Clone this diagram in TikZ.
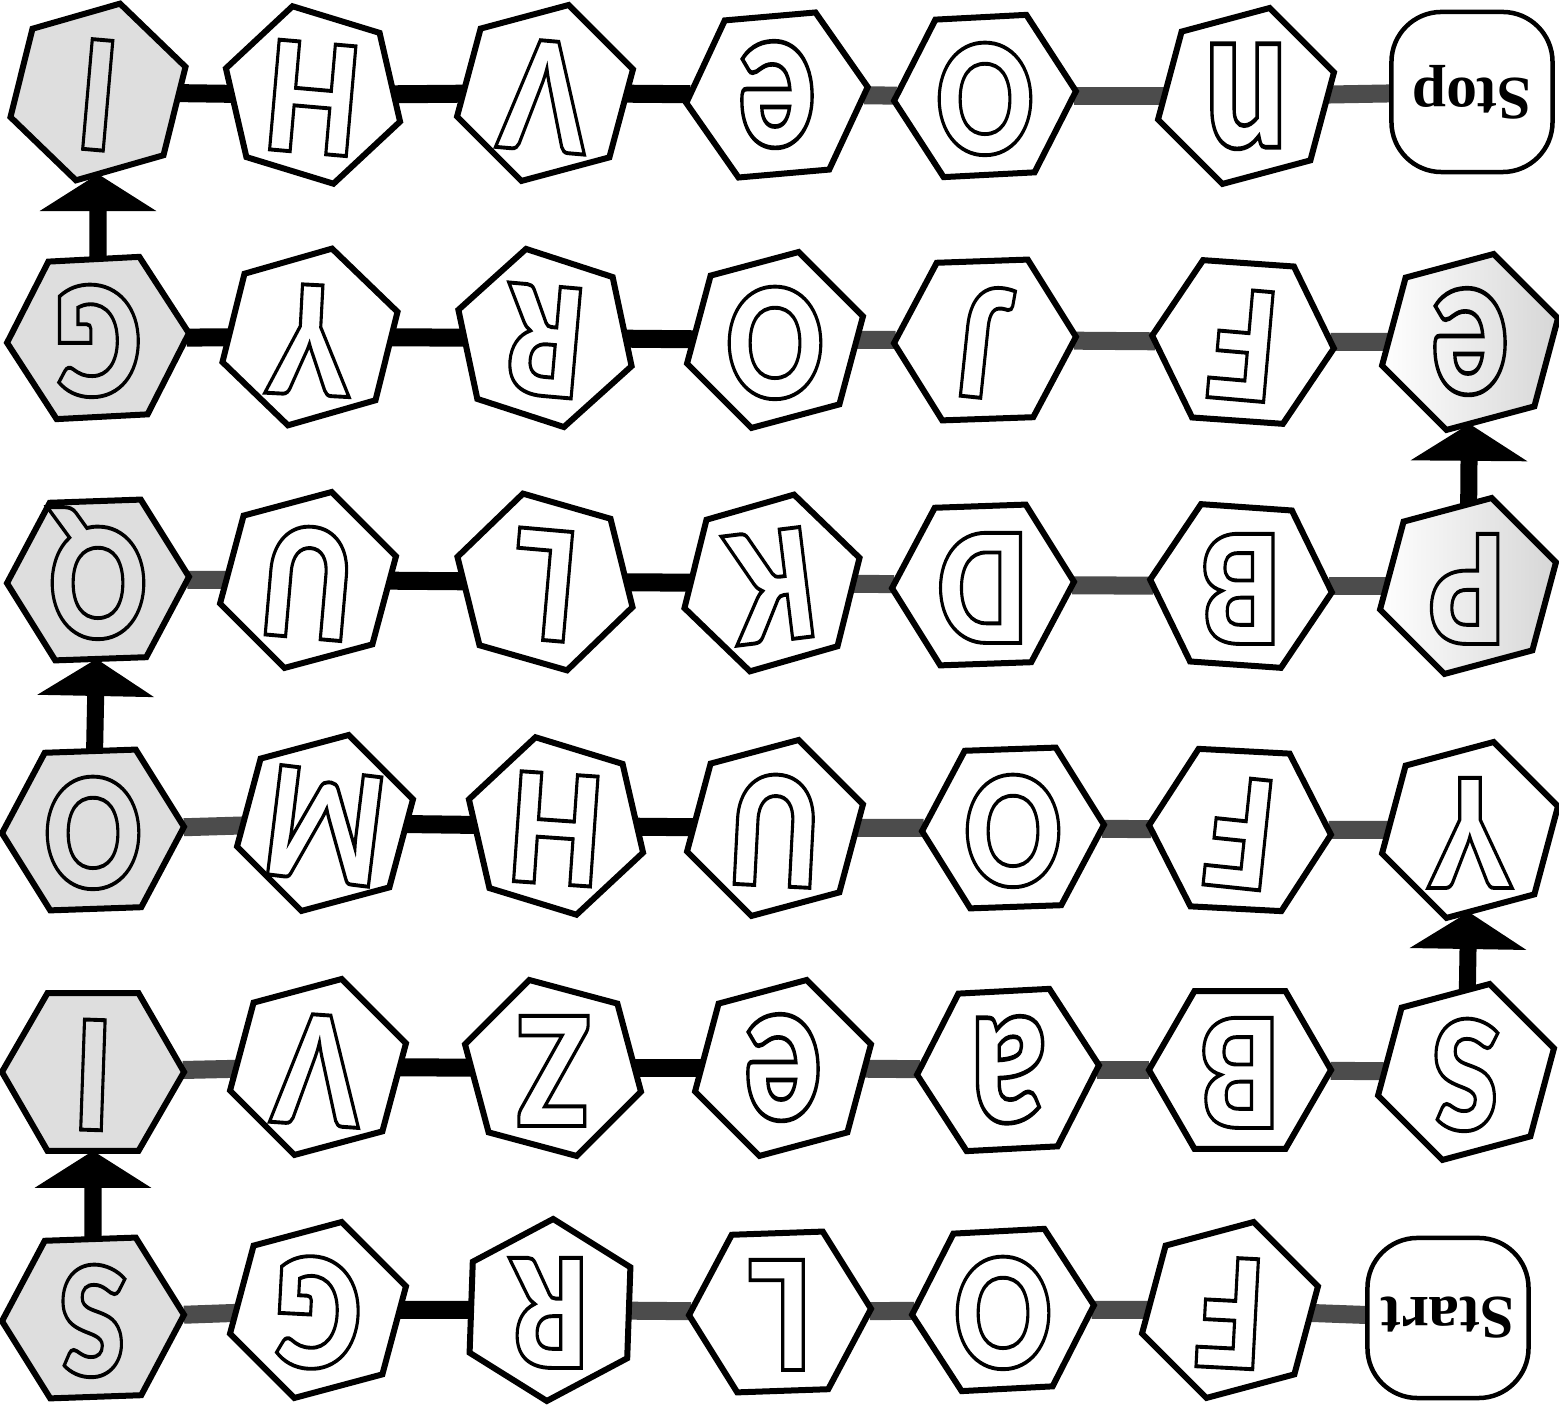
\documentclass[tikz,border=0pt]{standalone}
\usepackage{fontspec}
\usepackage{graphicx}
\usetikzlibrary{shapes.geometric,arrows.meta}
\pgfdeclarelayer{bg}
\pgfsetlayers{bg,main}
\IfFontExistsTF{Fira Sans Heavy}{%
  \newfontfamily\letfont{Fira Sans Heavy}\def\letsz{45}}{%
  \IfFontExistsTF{Lato Black}{%
    \newfontfamily\letfont{Lato Black}\def\letsz{43}}{%
    \newfontfamily\letfont{Liberation Sans}[UprightFont={* Bold}]\def\letsz{43}}}
\newfontfamily\endfont{Liberation Serif}
% outlined letters: PDF text render mode 1 (stroke only), zero-size box centred on the node
\newcommand\olet[2][0.8]{\makebox[0pt]{\raisebox{-0.345em}[0pt][0pt]{\special{pdf:literal direct 1 Tr 1.1 w}\scalebox{#1}[1]{#2}\special{pdf:literal direct 0 Tr}}}}
\newcommand\olc[1]{\makebox[0pt]{\raisebox{-0.345em}[0pt][0pt]{\special{pdf:literal direct 1 Tr 1.0 w}\scalebox{0.95}[1.32]{#1}\special{pdf:literal direct 0 Tr}}}}
\begin{document}
\begin{tikzpicture}[x=0.01cm,y=-0.01cm,
  hexa/.style={regular polygon,regular polygon sides=6,minimum size=1.82cm,inner sep=0pt,outer sep=0pt,draw=black,line width=0.06cm,fill=white,font=\letfont\fontsize{\letsz}{\letsz}\selectfont},
  greycell/.style={fill=black!13},
  edgeshade/.style={left color=white,right color=black!16},
  endbox/.style={rectangle,rounded corners=0.5cm,minimum width=1.61cm,minimum height=1.6cm,draw=black,line width=0.045cm,fill=white,inner sep=0pt,font=\endfont\bfseries\fontsize{17.5}{17.5}\selectfont},
  solidbar/.style={draw=black,line width=0.18cm},
  dotbar/.style={draw=black!70,line width=0.18cm},
  uparrow/.style={draw=black,line width=0.17cm,-{Triangle[width=1.15cm,length=0.37cm]}}
]
\useasboundingbox (0,0) rectangle (1559,1407);
\begin{pgfonlayer}{bg}
\fill[white] (0,0) rectangle (1559,1407);
\end{pgfonlayer}

% row 0
\node[hexa,greycell,rotate=175,shape border rotate=21] (r0c0) at (98,92) {\olet{I}};
\node[hexa,rotate=175,shape border rotate=48] (r0c1) at (313,95) {\olet{H}};
\node[hexa,rotate=175,shape border rotate=20] (r0c2) at (545,93) {\olet{V}};
\node[hexa,rotate=180,shape border rotate=5] (r0c3) at (777,95) {\olc{e}};
\node[hexa,rotate=180,shape border rotate=3] (r0c4) at (985,96) {\olet{O}};
\node[hexa,rotate=180,shape border rotate=15] (r0c5) at (1246,96) {\olc{n}};
\node[endbox,rotate=180] (stop) at (1472,92) {Stop};

% row 1
\node[hexa,greycell,rotate=180,shape border rotate=3] (r1c0) at (98,338) {\olet{G}};
\node[hexa,rotate=177,shape border rotate=19] (r1c1) at (310,337) {\olet{Y}};
\node[hexa,rotate=175,shape border rotate=47] (r1c2) at (545,338) {\olet{R}};
\node[hexa,rotate=180,shape border rotate=15] (r1c3) at (775,340) {\olet{O}};
\node[hexa,rotate=174,shape border rotate=8] (r1c4) at (985,340) {\olet{J}};
\node[hexa,rotate=175,shape border rotate=1] (r1c5) at (1243,342) {\olet{F}};
\node[hexa,edgeshade,rotate=180,shape border rotate=15] (r1c6) at (1470,342) {\olc{e}};

% row 2
\node[hexa,greycell,rotate=180,shape border rotate=2] (r2c0) at (98,580) {\olet{Q}};
\node[hexa,rotate=175,shape border rotate=20] (r2c1) at (308,580) {\olet{U}};
\node[hexa,rotate=175,shape border rotate=49] (r2c2) at (545,582) {\olet{L}};
\node[hexa,rotate=187,shape border rotate=9] (r2c3) at (772,583) {\olet{K}};
\node[hexa,rotate=180,shape border rotate=2] (r2c4) at (983,585) {\olet{D}};
\node[hexa,rotate=180,shape border rotate=-4] (r2c5) at (1241,586) {\olet{B}};
\node[hexa,edgeshade,rotate=180,shape border rotate=15] (r2c6) at (1468,586) {\olet{P}};

% row 3
\node[hexa,greycell,rotate=180,shape border rotate=2] (r3c0) at (93,830) {\olet{O}};
\node[hexa,rotate=173,shape border rotate=22] (r3c1) at (325,823) {\olet[0.82]{M}};
\node[hexa,rotate=176,shape border rotate=47] (r3c2) at (556,826) {\olet{H}};
\node[hexa,rotate=177,shape border rotate=18] (r3c3) at (775,828) {\olet{U}};
\node[hexa,rotate=180,shape border rotate=2] (r3c4) at (1013,828) {\olet{O}};
\node[hexa,rotate=174,shape border rotate=3] (r3c5) at (1240,830) {\olet{F}};
\node[hexa,rotate=180,shape border rotate=15] (r3c6) at (1470,830) {\olet{Y}};

% row 4
\node[hexa,greycell,rotate=178,shape border rotate=2] (r4c0) at (93,1072) {\olet{I}};
\node[hexa,rotate=176,shape border rotate=19] (r4c1) at (318,1067) {\olet{V}};
\node[hexa,rotate=180,shape border rotate=45] (r4c2) at (553,1068) {\olet{Z}};
\node[hexa,rotate=180,shape border rotate=15] (r4c3) at (783,1068) {\olc{e}};
\node[hexa,rotate=180,shape border rotate=3] (r4c4) at (1008,1070) {\olc{a}};
\node[hexa,rotate=180,shape border rotate=0] (r4c5) at (1240,1070) {\olet{B}};
\node[hexa,rotate=180,shape border rotate=15] (r4c6) at (1466,1072) {\olet{S}};

% row 5
\node[hexa,greycell,rotate=180,shape border rotate=2] (r5c0) at (93,1318) {\olet{S}};
\node[hexa,rotate=177,shape border rotate=18] (r5c1) at (318,1310) {\olet{G}};
\node[hexa,rotate=180,shape border rotate=28] (r5c2) at (550,1310) {\olet{R}};
\node[hexa,rotate=180,shape border rotate=2] (r5c3) at (780,1312) {\olet{L}};
\node[hexa,rotate=180,shape border rotate=3] (r5c4) at (1003,1310) {\olet{O}};
\node[hexa,rotate=177,shape border rotate=18] (r5c5) at (1230,1310) {\olet{F}};
\node[endbox,rotate=180] (start) at (1448,1318) {Start};

\begin{pgfonlayer}{bg}
% row 0
\draw[solidbar] (r0c0) -- (r0c1);
\draw[solidbar] (r0c1) -- (r0c2);
\draw[solidbar] (r0c2) -- (r0c3);
\draw[dotbar] (r0c3) -- (r0c4);
\draw[dotbar] (r0c4) -- (r0c5);
\draw[dotbar] (r0c5) -- (stop);
% row 1
\draw[solidbar] (r1c0) -- (r1c1);
\draw[solidbar] (r1c1) -- (r1c2);
\draw[solidbar] (r1c2) -- (r1c3);
\draw[dotbar] (r1c3) -- (r1c4);
\draw[dotbar] (r1c4) -- (r1c5);
\draw[dotbar] (r1c5) -- (r1c6);
% row 2
\draw[dotbar] (r2c0) -- (r2c1);
\draw[solidbar] (r2c1) -- (r2c2);
\draw[solidbar] (r2c2) -- (r2c3);
\draw[dotbar] (r2c3) -- (r2c4);
\draw[dotbar] (r2c4) -- (r2c5);
\draw[dotbar] (r2c5) -- (r2c6);
% row 3
\draw[dotbar] (r3c0) -- (r3c1);
\draw[solidbar] (r3c1) -- (r3c2);
\draw[solidbar] (r3c2) -- (r3c3);
\draw[dotbar] (r3c3) -- (r3c4);
\draw[dotbar] (r3c4) -- (r3c5);
\draw[dotbar] (r3c5) -- (r3c6);
% row 4
\draw[dotbar] (r4c0) -- (r4c1);
\draw[solidbar] (r4c1) -- (r4c2);
\draw[solidbar] (r4c2) -- (r4c3);
\draw[dotbar] (r4c3) -- (r4c4);
\draw[dotbar] (r4c4) -- (r4c5);
\draw[dotbar] (r4c5) -- (r4c6);
% row 5
\draw[dotbar] (r5c0) -- (r5c1);
\draw[solidbar] (r5c1) -- (r5c2);
\draw[dotbar] (r5c2) -- (r5c3);
\draw[dotbar] (r5c3) -- (r5c4);
\draw[dotbar] (r5c4) -- (r5c5);
\draw[dotbar] (r5c5) -- (start);
\end{pgfonlayer}

% vertical arrows
\draw[uparrow] (r5c0) -- (r4c0);
\draw[uparrow] (r4c6) -- (r3c6);
\draw[uparrow] (r3c0) -- (r2c0);
\draw[uparrow] (r2c6) -- (r1c6);
\draw[uparrow] (r1c0) -- (r0c0);
\end{tikzpicture}
\end{document}
